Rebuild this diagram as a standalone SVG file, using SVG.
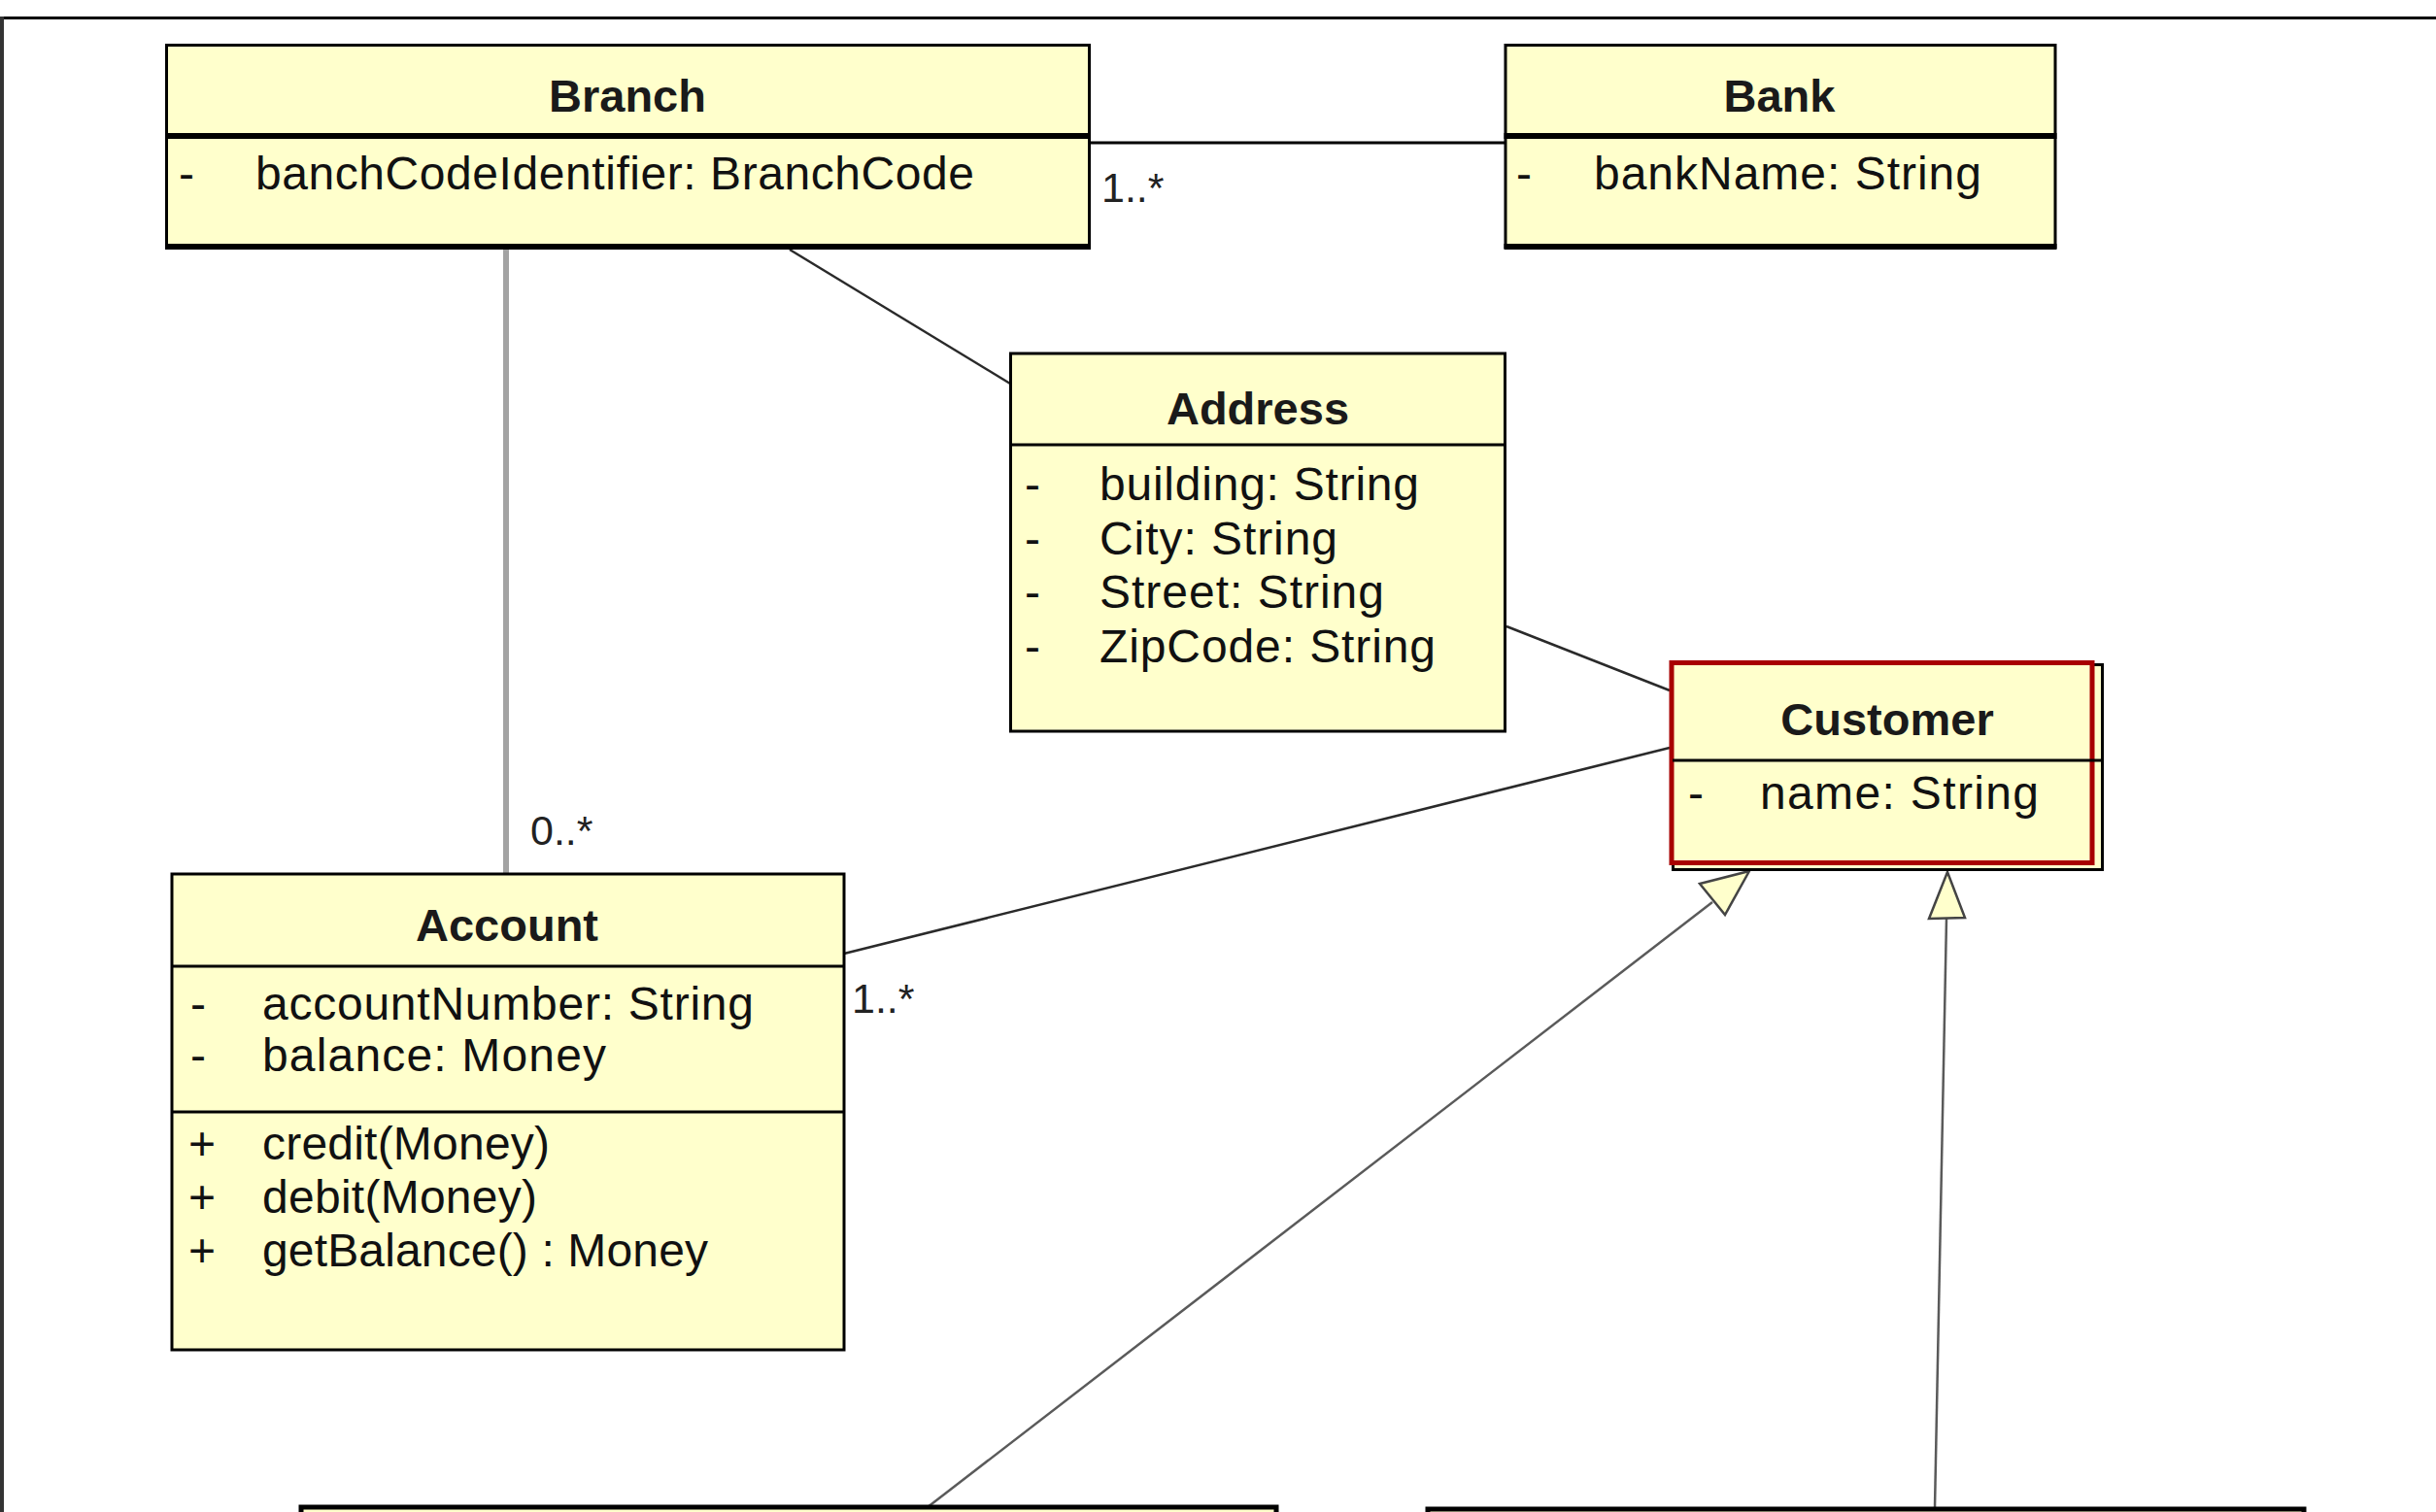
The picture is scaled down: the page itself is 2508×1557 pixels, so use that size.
<svg xmlns="http://www.w3.org/2000/svg" width="2508" height="1557" viewBox="0 0 2508 1557">
<defs>
<style>
.box{fill:#ffffcc;stroke:#000;stroke-width:3}
.sep{stroke:#000;stroke-width:3}
.sepT{stroke:#000;stroke-width:6}
.title{font-family:"Liberation Sans",Arial,sans-serif;font-weight:bold;font-size:47px;fill:#1a1a1a;text-anchor:middle}
.attr{font-family:"Liberation Sans",Arial,sans-serif;font-size:48px;fill:#111}
.mult{font-family:"Liberation Sans",Arial,sans-serif;font-size:43px;fill:#222}
.assoc{fill:none;stroke:#2a2a2a;stroke-width:2.5}
.gen{fill:none;stroke:#5a5a5a;stroke-width:2.5}
.tri{fill:#ffffcc;stroke:#444;stroke-width:2.5;stroke-linejoin:miter}
</style>
</defs>
<rect width="2508" height="1557" fill="#ffffff"/>
<g id="frame">
<line x1="0" y1="18.5" x2="2508" y2="18.5" stroke="#000" stroke-width="3"/>
<line x1="2" y1="17" x2="2" y2="1557" stroke="#333" stroke-width="4"/>
</g>
<g id="connectors">
<line x1="1122" y1="147" x2="1550" y2="147" stroke="#000" stroke-width="3"/>
<line x1="521" y1="257" x2="521" y2="899" stroke="#a3a3a3" stroke-width="6"/>
<line class="assoc" x1="813" y1="257" x2="1040" y2="395"/>
<line class="assoc" x1="1551" y1="645" x2="1719" y2="711"/>
<line class="assoc" x1="869" y1="982" x2="1719" y2="770"/>
<line class="gen" x1="1763" y1="929" x2="955" y2="1552"/>
<line class="gen" x1="2004" y1="946" x2="1992" y2="1553"/>
<polygon class="tri" points="1801,897 1750,910 1776,942"/>
<polygon class="tri" points="2005,898 1986,946 2023,945"/>
<text class="mult" x="1134" y="208">1..*</text>
<text class="mult" x="546" y="870">0..*</text>
<text class="mult" x="877" y="1043">1..*</text>
</g>
<g id="branch">
<rect class="box" x="171.5" y="46.5" width="950" height="208"/>
<line class="sepT" x1="170" y1="140" x2="1123" y2="140"/>
<line x1="170" y1="254" x2="1123" y2="254" stroke="#000" stroke-width="6"/>
<text class="title" x="646" y="115">Branch</text>
<text class="attr" x="184" y="195">-</text>
<text class="attr" x="263" y="195" textLength="740">banchCodeIdentifier: BranchCode</text>
</g>
<g id="bank">
<rect class="box" x="1550" y="46.5" width="566" height="208"/>
<line class="sepT" x1="1548.5" y1="140" x2="2117.5" y2="140"/>
<line x1="1548.5" y1="254" x2="2117.5" y2="254" stroke="#000" stroke-width="6"/>
<text class="title" x="1832" y="115">Bank</text>
<text class="attr" x="1561" y="195">-</text>
<text class="attr" x="1641" y="195" textLength="399">bankName: String</text>
</g>
<g id="address">
<rect class="box" x="1040.5" y="364" width="509" height="389"/>
<line class="sep" x1="1040" y1="458" x2="1550" y2="458"/>
<text class="title" x="1295" y="437">Address</text>
<text class="attr" x="1055" y="515">-</text>
<text class="attr" x="1132" y="515" textLength="329">building: String</text>
<text class="attr" x="1055" y="571">-</text>
<text class="attr" x="1132" y="571" textLength="245">City: String</text>
<text class="attr" x="1055" y="626">-</text>
<text class="attr" x="1132" y="626" textLength="293">Street: String</text>
<text class="attr" x="1055" y="682">-</text>
<text class="attr" x="1132" y="682" textLength="346">ZipCode: String</text>
</g>
<g id="customer">
<rect x="1722.5" y="684.5" width="442" height="211" fill="#ffffcc" stroke="#000" stroke-width="3"/>
<rect x="1721" y="682.5" width="433" height="206" fill="#ffffcc" stroke="#a80000" stroke-width="5"/>
<line class="sep" x1="1722" y1="783" x2="2165" y2="783"/>
<text class="title" x="1943" y="757">Customer</text>
<text class="attr" x="1738" y="833">-</text>
<text class="attr" x="1812" y="833" textLength="287">name: String</text>
</g>
<g id="account">
<rect class="box" x="177" y="900" width="692" height="490"/>
<line class="sep" x1="177" y1="995" x2="869" y2="995"/>
<line class="sep" x1="177" y1="1145" x2="869" y2="1145"/>
<text class="title" x="522" y="969">Account</text>
<text class="attr" x="196" y="1050">-</text>
<text class="attr" x="270" y="1050" textLength="506">accountNumber: String</text>
<text class="attr" x="196" y="1103">-</text>
<text class="attr" x="270" y="1103" textLength="354">balance: Money</text>
<text class="attr" x="194" y="1194">+</text>
<text class="attr" x="270" y="1194" textLength="296">credit(Money)</text>
<text class="attr" x="194" y="1249">+</text>
<text class="attr" x="270" y="1249" textLength="283">debit(Money)</text>
<text class="attr" x="194" y="1304">+</text>
<text class="attr" x="270" y="1304" textLength="459">getBalance() : Money</text>
</g>
<g id="class-bottom-left">
<rect x="310" y="1552" width="1004" height="40" fill="#ffffcc" stroke="#000" stroke-width="5"/>
</g>
<g id="class-bottom-right">
<rect x="1470" y="1554" width="902" height="40" fill="#ffffcc" stroke="#000" stroke-width="5"/>
</g>
</svg>
